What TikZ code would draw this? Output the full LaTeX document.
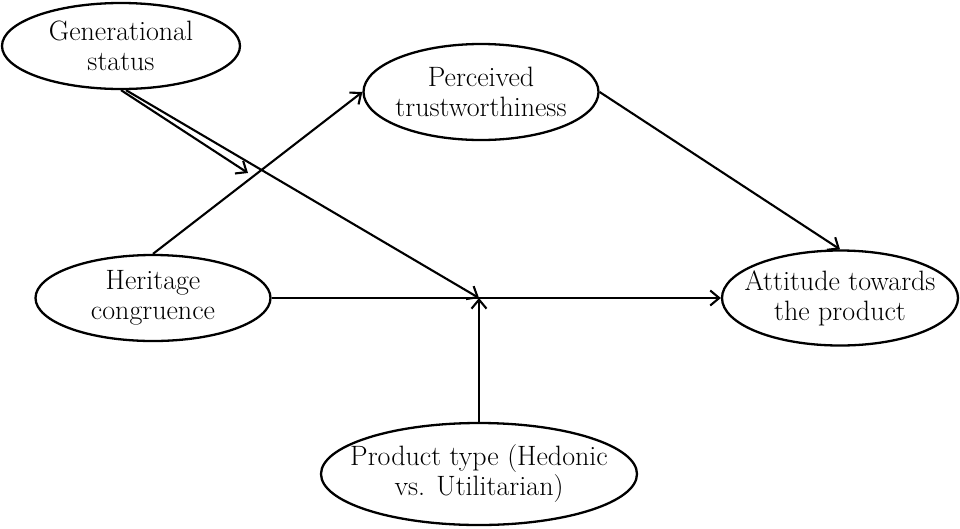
\documentclass[tikz,border=0pt]{standalone}
\usepackage{tikz}
\usetikzlibrary{arrows.meta, positioning, shapes.geometric}

\tikzset{
  ell/.style={draw, ellipse, line width=2.3pt, inner sep=0pt},
  txt/.style={align=center, inner sep=0pt, font=\fontsize{28}{30}\selectfont},
  arr/.style={line width=2.1pt, -{Straight Barb[length=9pt, width=15pt]}}
}

\begin{document}
\begin{tikzpicture}[x=1pt, y=-1pt]
\useasboundingbox (0,0) rectangle (960,528);

% Constructs
\node[ell, minimum width=238pt, minimum height=86pt,
  label={[txt]center:Generational\\status}] (gen) at (121,46) {};
\node[ell, minimum width=235pt, minimum height=96pt,
  label={[txt]center:Perceived\\trustworthiness}] (trust) at (481,92) {};
\node[ell, minimum width=235pt, minimum height=86pt,
  label={[txt]center:Heritage\\congruence}] (herit) at (153,298) {};
\node[ell, minimum width=236pt, minimum height=95pt,
  label={[txt]center:Attitude towards\\the product}] (att) at (840,298) {};
\node[ell, minimum width=316pt, minimum height=102pt,
  label={[txt]center:Product type (Hedonic\\vs. Utilitarian)}] (ptype) at (479,474) {};

% Points on paths
\coordinate (genend) at (248,173);
\coordinate (moder) at (479,298);

% Paths
\draw[arr] (gen.south) -- (genend);
\draw[arr] ([xshift=5pt]gen.south) -- (moder);
\draw[arr] (herit.north) -- (trust.west);
\draw[arr] (trust.east) -- (att.north);
\draw[arr] (herit.east) -- (att.west);
\draw[arr] (ptype.north) -- (moder);
\end{tikzpicture}
\end{document}
